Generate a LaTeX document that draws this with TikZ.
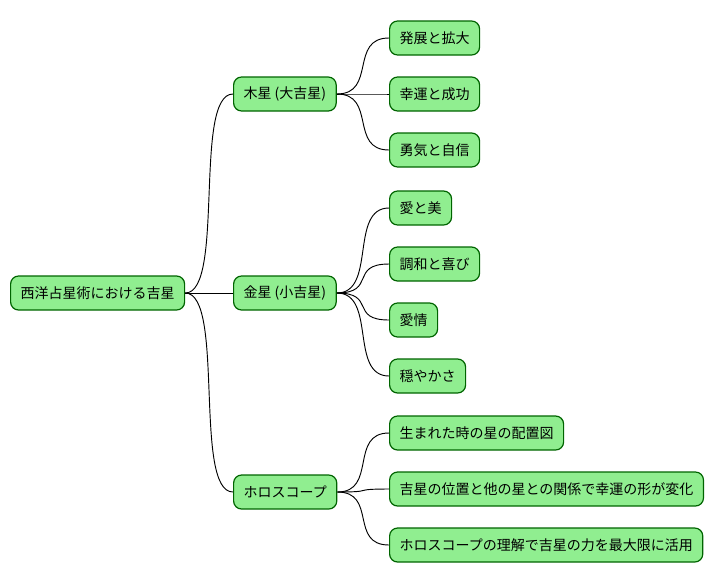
\documentclass[tikz,border=0pt]{standalone}
\usepackage{fontspec}
\setmainfont{Noto Sans CJK JP}
\begin{document}
\begin{tikzpicture}[x=0.75pt,y=-0.75pt,
  n/.style={draw=black!40!green!60!black,fill=green!45!white!90!black,fill={rgb,255:red,144;green,238;blue,144},draw={rgb,255:red,0;green,100;blue,0},line width=0.9pt,rounded corners=6pt,minimum height=25.5pt,inner xsep=7.5pt,anchor=west,font=\fontsize{10.5pt}{12pt}\selectfont},
  e/.style={line width=0.7pt,black}]
\useasboundingbox (0,0) rectangle (712,583);
\node[n] (r) at (10,293) {西洋占星術における吉星};
\node[n] (j) at (233,94) {木星 (大吉星)};
\node[n] (v) at (233,293) {金星 (小吉星)};
\node[n] (h) at (233,492) {ホロスコープ};
\node[n] (j1) at (389,38) {発展と拡大};
\node[n] (j2) at (389,94) {幸運と成功};
\node[n] (j3) at (389,150) {勇気と自信};
\node[n] (v1) at (389,208) {愛と美};
\node[n] (v2) at (389,264) {調和と喜び};
\node[n] (v3) at (389,320) {愛情};
\node[n] (v4) at (389,376) {穏やかさ};
\node[n] (h1) at (389,433) {生まれた時の星の配置図};
\node[n] (h2) at (389,489) {吉星の位置と他の星との関係で幸運の形が変化};
\node[n] (h3) at (389,545) {ホロスコープの理解で吉星の力を最大限に活用};
\foreach \a/\b in {r/j,r/v,r/h,j/j1,j/j2,j/j3,v/v1,v/v2,v/v3,v/v4,h/h1,h/h2,h/h3}{
  \draw[e] (\a.east) .. controls ([xshift=30]\a.east) and ([xshift=-30]\b.west) .. (\b.west);
}
\end{tikzpicture}
\end{document}
